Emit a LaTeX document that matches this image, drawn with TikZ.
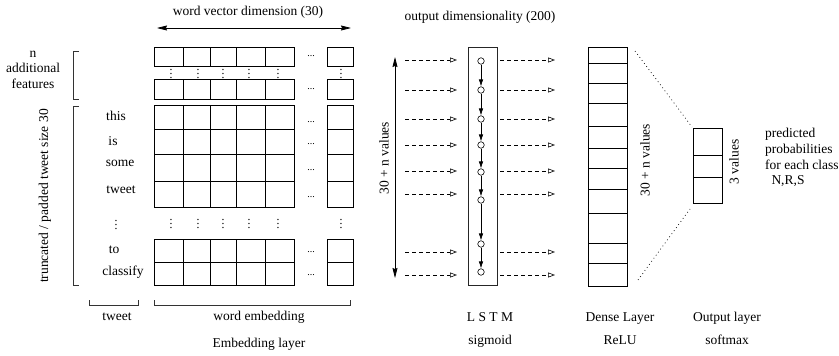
\documentclass[tikz,border=0pt]{standalone}
\usepackage{fontspec}
\setmainfont{Liberation Serif}
\usetikzlibrary{arrows.meta}
\begin{document}
\begin{tikzpicture}[x=1pt,y=-1pt,
  font=\fontsize{13.5}{16}\selectfont,
  every node/.style={inner sep=0pt},
  gl/.style={draw=black, line width=0.8pt},
  brk/.style={draw=black!80, line width=0.8pt},
  circ/.style={circle, draw, fill=white, minimum size=6.5pt, inner sep=0pt, line width=0.6pt},
  stp/.style={-{Latex[length=7pt,width=4.5pt]}, line width=0.7pt},
  dsh/.style={dash pattern=on 4pt off 3pt, line width=0.6pt, -{Triangle[open,length=7pt,width=5pt]}},
  dbl/.style={{Stealth[length=10pt,width=5pt,inset=1pt]}-{Stealth[length=10pt,width=5pt,inset=1pt]}, line width=0.8pt},
  dotl/.style={dash pattern=on 0.8pt off 3pt, line width=0.7pt},
  vd/.style={rotate=90, font=\fontsize{12}{14}\selectfont},
  hd/.style={font=\fontsize{10}{12}\selectfont}]
\useasboundingbox (0,0) rectangle (839,356);

% ---------- Embedding grids ----------
\foreach \t/\b in {47/66, 79/99, 105/207, 239/285} {
  \draw[gl] (154,\t) rectangle (294,\b);
  \draw[gl] (327,\t) rectangle (353,\b);
  \foreach \x in {183,210,236,265} \draw[gl] (\x,\t) -- (\x,\b);
}
\foreach \y in {129,154,181,262} {
  \draw[gl] (154,\y) -- (294,\y);
  \draw[gl] (327,\y) -- (353,\y);
}
% horizontal dots
\foreach \y [count=\i] in {56,89,122,144,170,197,252,275}
  \node[hd] (hd\i) at (311,\y) {...};
% vertical dots
\foreach \x [count=\i] in {171,198,223,249,278,341} {
  \node[vd] (vt\i) at (\x,74) {.\kern1.3pt.\kern1.3pt.};
  \node[vd] (vm\i) at (\x,224) {.\kern1.3pt.\kern1.3pt.};
}
\node[vd] (vw) at (116,225) {.\kern1.3pt.\kern1.3pt.};

% words
\node[anchor=base] (w1) at (116,120) {this};
\node[anchor=base] (w2) at (113,145.5) {is};
\node[anchor=base] (w3) at (120,166.5) {some};
\node[anchor=base] (w4) at (121,193.5) {tweet};
\node[anchor=base] (w5) at (114,253) {to};
\node[anchor=base] (w6) at (123,275.5) {classify};

% left brackets
\draw[brk] (79,51) -- (73,51) -- (73,99) -- (79,99);
\draw[brk] (79,106) -- (73,106) -- (73,285) -- (79,285);
\node[align=center, font=\fontsize{13.5}{15.5}\selectfont] (feat) at (33,69.5) {n\\additional\\features};
\node[rotate=90] (trunc) at (45,196) {truncated / padded tweet size 30};

% bottom brackets
\draw[brk] (89,300) -- (89,305) -- (138,305) -- (138,300);
\draw[brk] (154,300) -- (154,305) -- (350,305) -- (350,300);
\node[anchor=base] (ltweet) at (117,320.5) {tweet};
\node[anchor=base] (lwe) at (259,320.5) {word embedding};
\node[anchor=base] (lel) at (259,347) {Embedding layer};

% word vector dimension
\node (wvd) at (248,12) {word vector dimension (30)};
\coordinate (wvl) at (157,28);
\coordinate (wvr) at (351,28);
\draw[dbl] (wvl) -- (wvr);

% ---------- LSTM ----------
\node (od) at (480,17) {output dimensionality (200)};
\draw[line width=0.8pt, draw=black!85] (468,47) rectangle (497,285);
\foreach \y [count=\i] in {61,90,119,145,172,200,244,272}
  \node[circ] (c\i) at (481,\y) {};
\foreach \i [evaluate=\i as \j using int(\i+1)] in {1,...,7}
  \draw[stp] (c\i) -- (c\j);
\foreach \y [count=\i] in {60,90,119,145,171,194,252,275} {
  \coordinate (la\i) at (405,\y);
  \coordinate (lb\i) at (457,\y);
  \coordinate (ra\i) at (500,\y);
  \coordinate (rb\i) at (555,\y);
  \draw[dsh] (la\i) -- (lb\i);
  \draw[dsh] (ra\i) -- (rb\i);
}
\coordinate (vt) at (395,57);
\coordinate (vb) at (395,278);
\draw[dbl] (vt) -- (vb);
\node[rotate=90] (lv1) at (384,158) {30 + n values};

% ---------- Dense ----------
\draw[gl] (588,47) rectangle (627,286);
\foreach \y in {63,83,103,126,148,168,189,213,243,263}
  \draw[gl] (588,\y) -- (627,\y);
\node[rotate=90] (lv2) at (645,160) {30 + n values};

% ---------- Output ----------
\draw[gl] (693,128) rectangle (722,203);
\foreach \y in {155,177} \draw[gl] (693,\y) -- (722,\y);
\node[rotate=90] (lv3) at (734,162) {3 values};
\coordinate (d1a) at (635,51);
\coordinate (d1b) at (692,127);
\coordinate (d2a) at (638,280);
\coordinate (d2b) at (690,209);
\draw[dotl] (d1a) -- (d1b);
\draw[dotl] (d2a) -- (d2b);

\node[anchor=base west] (p1) at (765,137.5) {predicted};
\node[anchor=base west] (p2) at (765,153.5) {probabilities};
\node[anchor=base west] (p3) at (765,169) {for each class};
\node[anchor=base] (p4) at (788,184.5) {N,R,S};

% bottom labels
\node[anchor=base] (b1) at (490,321) {L S T M};
\node[anchor=base] (b2) at (490,344.5) {sigmoid};
\node[anchor=base] (b3) at (620,321) {Dense Layer};
\node[anchor=base] (b4) at (620,344.5) {ReLU};
\node[anchor=base] (b5) at (727,321) {Output layer};
\node[anchor=base] (b6) at (727,344.5) {softmax};
\end{tikzpicture}
\end{document}
